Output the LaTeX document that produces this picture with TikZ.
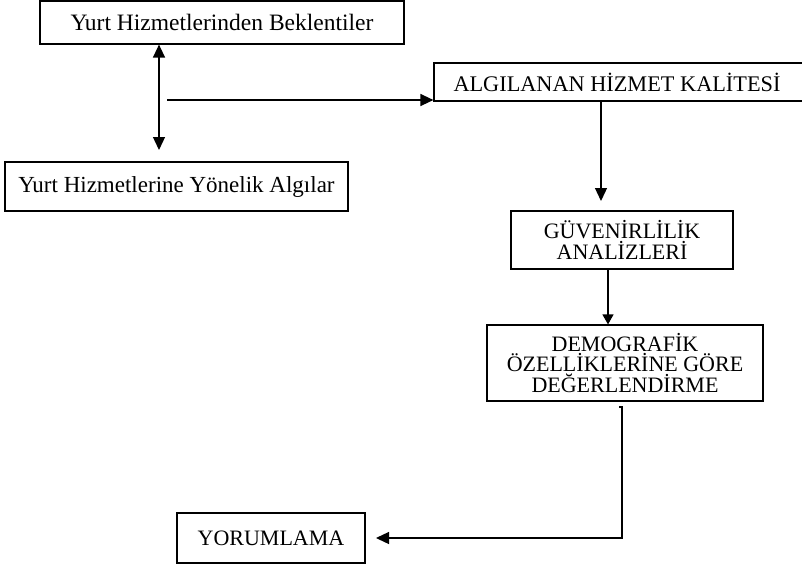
\documentclass[tikz,border=0pt]{standalone}
\usepackage{fontspec}
\setmainfont{Liberation Serif}
\usetikzlibrary{arrows.meta}
\tikzset{
  box/.style={draw, line width=1.2pt, inner sep=0pt, align=center, font=\fontsize{22}{20.5}\selectfont},
  conn/.style={line width=1.3pt},
  tip/.style={-{Triangle[length=13pt,width=12pt]}},
  smalltip/.style={-{Triangle[length=10pt,width=11pt]}}
}
\begin{document}
\begin{tikzpicture}[x=1pt,y=-1pt]
\useasboundingbox (0,0) rectangle (802,568);
\node[box, minimum width=364pt, minimum height=43pt, font=\fontsize{23.5}{24}\selectfont] (b1) at (222,22.5) {Yurt Hizmetlerinden Beklentiler};
\node[box, minimum width=343pt, minimum height=49pt, font=\fontsize{23}{24}\selectfont] (b2) at (176.5,186.5) {Yurt Hizmetlerine Yönelik Algılar};
\node[box, minimum width=374pt, minimum height=38pt, font=\fontsize{22.3}{24}\selectfont] (b3) at (621,82) {\hspace*{-8pt}ALGILANAN HİZMET KALİTESİ};
\node[box, minimum width=222pt, minimum height=58pt] (b4) at (622,240) {GÜVENİRLİLİK\\ANALİZLERİ};
\node[box, minimum width=276pt, minimum height=76pt] (b5) at (625,363) {DEMOGRAFİK\\ÖZELLİKLERİNE GÖRE\\DEĞERLENDİRME};
\node[box, minimum width=188pt, minimum height=50pt] (b6) at (271,538) {YORUMLAMA};

\coordinate (da) at (159,150);
\coordinate (hs) at (167,100);
\coordinate (d3) at (601,201);
\coordinate (d4) at (608,269);
\coordinate (t5) at (619,407);
\coordinate (c5) at (622,407);
\coordinate (e6) at (376,538);

\draw[conn, {Triangle[length=13pt,width=12pt]}-{Triangle[length=13pt,width=12pt]}] (b1.south -| da) -- (da);
\draw[conn, tip] (hs) -- (hs -| b3.west);
\draw[conn, tip] (b3.south -| d3) -- (d3);
\draw[conn, smalltip] (d4) -- (d4 |- b5.north);
\draw[conn, tip] (t5) -- (c5) -- (c5 |- e6) -- (e6);
\end{tikzpicture}
\end{document}
